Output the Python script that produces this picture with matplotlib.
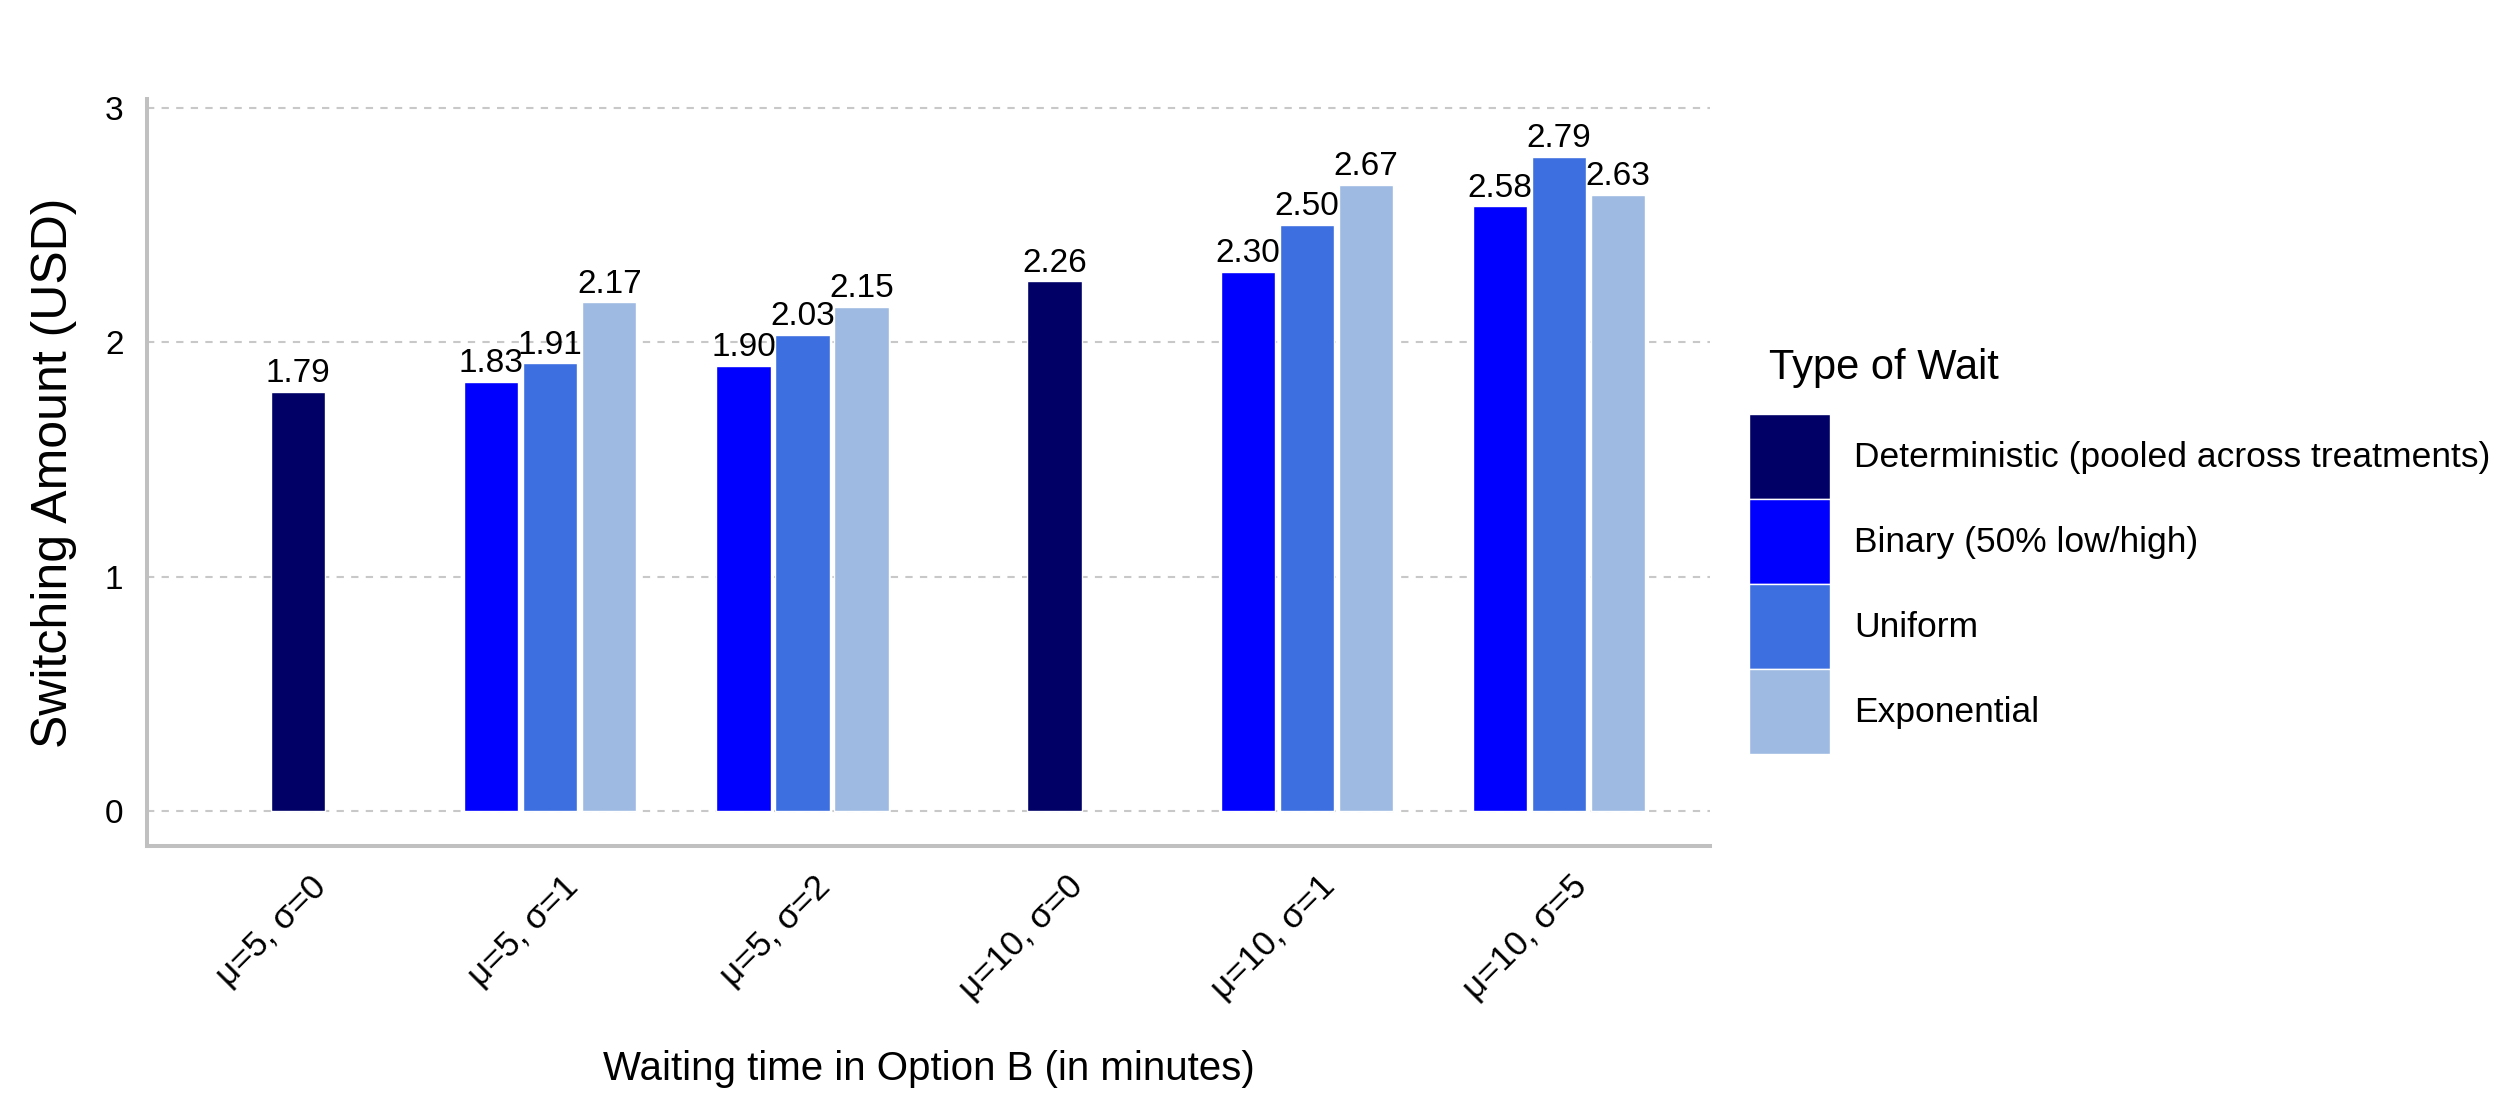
import numpy as np
import matplotlib
matplotlib.use("Agg")
import matplotlib.pyplot as plt
import matplotlib.transforms as mtransforms

# Data
categories = ['μ=5, σ=0', 'μ=5, σ=1', 'μ=5, σ=2', 'μ=10, σ=0', 'μ=10, σ=1', 'μ=10, σ=5']
series_names = ['Deterministic (pooled across treatments)', 'Binary (50% low/high)',
                'Uniform', 'Exponential']
deterministic = [1.79, np.nan, np.nan, 2.26, np.nan, np.nan]
binary = [np.nan, 1.83, 1.90, np.nan, 2.30, 2.58]
uniform = [np.nan, 1.91, 2.03, np.nan, 2.50, 2.79]
exponential = [np.nan, 2.17, 2.15, np.nan, 2.67, 2.63]
colors = ['#000066', '#0000FF', '#3D6FE0', '#9FBAE2']

plt.rcParams['font.family'] = ['Liberation Sans', 'DejaVu Sans']

fig = plt.figure(figsize=(25, 11), dpi=100)
ax = fig.add_axes([0.0588, 0.2309, 0.6252, 0.6791])

all_series = [deterministic, binary, uniform, exponential]
values = np.array(all_series, dtype=float)
x = np.arange(len(categories))
step = 0.234
width = 0.215

# dodge: bars present in each group are centred on the category
offsets = np.full(values.shape, np.nan)
for j in range(len(categories)):
    present = np.where(~np.isnan(values[:, j]))[0]
    n = len(present)
    for k, i in enumerate(present):
        offsets[i, j] = (k - (n - 1) / 2) * step

for i, name in enumerate(series_names):
    mask = ~np.isnan(values[i])
    bars = ax.bar(x[mask] + offsets[i, mask], values[i, mask], width=width,
                  color=colors[i], edgecolor='white', linewidth=1.0, label=name,
                  zorder=3)
    ax.bar_label(bars, fmt='%.2f', padding=2, fontsize=24)

ax.set_xlim(-0.6, len(categories) - 0.4)
ax.set_ylim(-0.149, 3.038)
ax.set_yticks([0, 1, 2, 3])
ax.set_xticks(x)
ax.set_xticklabels(categories)
ax.tick_params(axis='x', length=0, pad=17, labelsize=25, colors='black')
ax.tick_params(axis='y', length=0, pad=17, labelsize=24, colors='black')

# rotated labels, nudged a little to the right like the ggplot output
shift = mtransforms.ScaledTranslation(8 / 72, 0, fig.dpi_scale_trans)
for lab in ax.get_xticklabels():
    lab.set_rotation(45)
    lab.set_ha('right')
    lab.set_va('top')
    lab.set_rotation_mode('anchor')
    lab.set_transform(lab.get_transform() + shift)

ax.yaxis.grid(True, color='#C8C8C8', linestyle=(0, (3.5, 3.5)), linewidth=1.5)
ax.set_axisbelow(True)

for s in ['top', 'right']:
    ax.spines[s].set_visible(False)
for s in ['left', 'bottom']:
    ax.spines[s].set_color('#C0C0C0')
    ax.spines[s].set_linewidth(2.9)

ax.set_ylabel('Switching Amount (USD)', fontsize=36)
ax.yaxis.set_label_coords(-0.0448, 0.5)
ax.set_xlabel('Waiting time in Option B (in minutes)', fontsize=29)
ax.xaxis.set_label_coords(0.5, -0.273)

# legend title drawn on its own to get the ggplot spacing
fig.text(1769 / 2500, 1 - 379 / 1100, 'Type of Wait', fontsize=30,
         ha='left', va='baseline')
leg = fig.legend(loc='upper left', bbox_to_anchor=(1749 / 2500, 1 - 414 / 1100),
                 frameon=False, fontsize=25.5, borderpad=0,
                 labelspacing=0, handlelength=2.29, handleheight=3.315,
                 handletextpad=0.68, borderaxespad=0)

fig.savefig('out.png', dpi=100)
